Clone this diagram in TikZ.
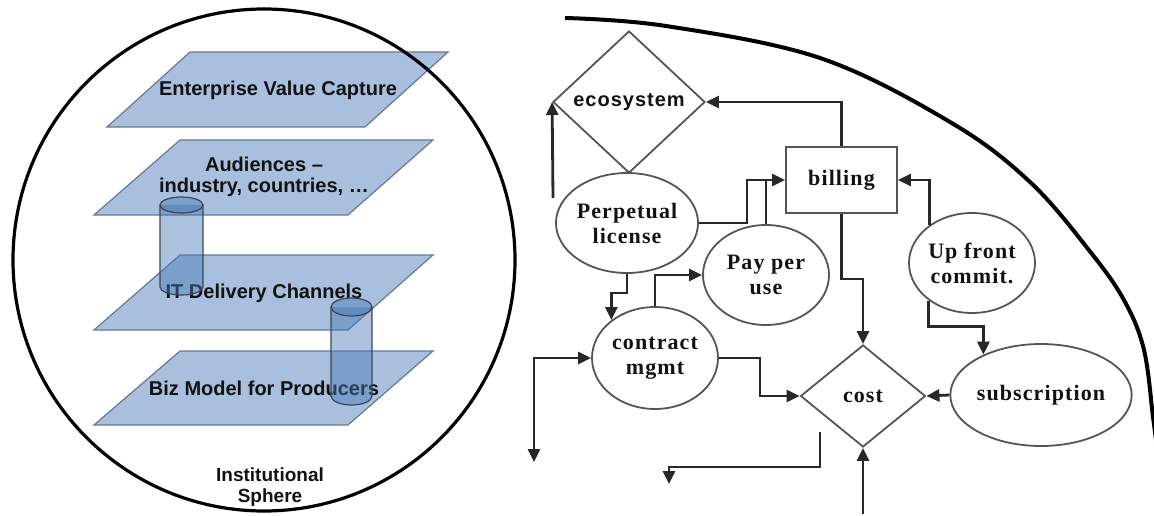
\documentclass[tikz,border=0pt]{standalone}
\usepackage{fontspec}
\setmainfont{Liberation Serif}
\newfontfamily\planefont{Liberation Sans}
\newfontfamily\labelserif{Liberation Serif}[LetterSpace=5]
\newfontfamily\labelsans{Liberation Sans}[LetterSpace=5]
\usetikzlibrary{shapes.geometric,arrows.meta,calc}

\definecolor{planefill}{RGB}{168,192,222}
\definecolor{planeedge}{RGB}{105,120,145}
\definecolor{cylfill}{RGB}{70,120,182}
\definecolor{cyledge}{RGB}{60,68,84}
\definecolor{ink}{RGB}{18,18,18}
\definecolor{wirecol}{RGB}{40,40,40}
\definecolor{outline}{RGB}{85,85,85}

\begin{document}
\begin{tikzpicture}[x=1pt,y=-1pt,
  plane/.style={fill=planefill, draw=planeedge, line width=1.2pt},
  planetext/.style={font=\planefont\bfseries\fontsize{20}{21}\selectfont,
    text=ink, align=center, inner sep=0pt},
  cylbody/.style={fill=cylfill, fill opacity=0.45, draw=cyledge, line width=1.2pt},
  sphere/.style={draw=black, line width=3.2pt},
  proc/.style={ellipse, draw=outline, line width=1.8pt, fill=white, inner sep=0pt,
    font=\labelserif\bfseries\fontsize{22}{25}\selectfont, align=center, text=ink},
  choice/.style={diamond, draw=outline, line width=1.8pt, fill=white, inner sep=0pt,
    text=ink},
  stepbox/.style={rectangle, draw=outline, line width=1.8pt, fill=white, inner sep=0pt,
    font=\labelserif\bfseries\fontsize{22}{25}\selectfont, text=ink},
  wire/.style={draw=wirecol, line width=2.8pt, -{Triangle[length=13pt,width=12pt]}},
  wiretwo/.style={draw=wirecol, line width=2.8pt,
    {Triangle[length=13pt,width=12pt]}-{Triangle[length=13pt,width=12pt]}},
  plainwire/.style={draw=wirecol, line width=2.8pt},
]
\useasboundingbox (0,0) rectangle (1154,516);

% ---------------- institutional sphere: stacked layers ----------------
\draw[plane] (190,52) -- (448,52) -- (365,127) -- (107,127) -- cycle;
\node[planetext] (evc) at (278,90) {Enterprise Value Capture};

\draw[plane] (180,140) -- (433,140) -- (348,215) -- (94,215) -- cycle;
\node[planetext] (aud) at (264,177) {Audiences \textendash\\industry, countries, \dots};

\draw[plane] (180,255) -- (433,255) -- (348,330) -- (94,330) -- cycle;
\node[planetext] (itd) at (264,293) {IT Delivery Channels};

\draw[plane] (180,351) -- (433,351) -- (348,425) -- (94,425) -- cycle;
\node[planetext] (biz) at (264,388) {Biz Model for Producers};

% connecting cylinders between the layers
\fill[cylfill, fill opacity=0.45] (160,205) rectangle (203,287);
\fill[cylfill, fill opacity=0.45] (160,287) arc[start angle=180, end angle=0, x radius=21.5, y radius=8];
\draw[cyledge, line width=1.2pt] (160,205) -- (160,287)
  arc[start angle=180, end angle=0, x radius=21.5, y radius=8] -- (203,205);
\draw[cylbody] (181.5,205) ellipse[x radius=21.5, y radius=8];

\fill[cylfill, fill opacity=0.45] (331,307) rectangle (372,396);
\fill[cylfill, fill opacity=0.45] (331,396) arc[start angle=180, end angle=0, x radius=20.5, y radius=9];
\draw[cyledge, line width=1.2pt] (331,307) -- (331,396)
  arc[start angle=180, end angle=0, x radius=20.5, y radius=9] -- (372,307);
\draw[cylbody] (351.5,307) ellipse[x radius=20.5, y radius=9];

% sphere outline and caption
\draw[sphere] (264,260) circle[radius=251];
\node[planetext, font=\planefont\bfseries\fontsize{19}{21}\selectfont] (sph) at (270,487)
  {Institutional\\Sphere};

% ---------------- revenue model flow ----------------
\draw[sphere, line width=4pt] plot[smooth, tension=0.6] coordinates
  {(565,18) (666,26) (820,58) (950,122) (1030,182) (1092,254) (1125,302) (1144,350) (1153,417) (1156,440)};

\node[choice, minimum width=152pt, minimum height=142pt,
  font=\labelsans\bfseries\fontsize{20}{24}\selectfont] (eco) at (629,102) {ecosystem};
\node[stepbox, minimum width=111pt, minimum height=66pt] (bill) at (841.5,180) {billing};
\node[proc, minimum width=126pt, minimum height=100pt] (perp) at (627,223) {Perpetual\\license};
\node[proc, minimum width=126pt, minimum height=100pt] (pay) at (766,275) {Pay per\\use};
\node[proc, minimum width=126pt, minimum height=102pt] (cm) at (655,358) {contract\\mgmt};
\node[proc, minimum width=126pt, minimum height=100pt] (uf) at (972,263) {Up front\\commit.};
\node[proc, minimum width=154pt, minimum height=102pt] (sub) at (1041,395) {subscription};
\node[choice, minimum width=125pt, minimum height=102pt,
  font=\labelserif\bfseries\fontsize{22}{25}\selectfont] (cost) at (863,396) {cost};

% loose ends of the flow
\coordinate (ecoin) at (553,198);
\coordinate (cmin) at (534,462);
\coordinate (outa) at (820,432);
\coordinate (outb) at (669,484);
\coordinate (costin) at (863,514);

\draw[wire] (ecoin) -- (eco.west);
\draw[wire] (bill.north) |- (eco.east);
\draw[wire] (perp.east) -- ++(48,0) |- (bill.west);
\draw[plainwire] (pay.north) -- (pay.north |- bill.west);
\draw[wire] (perp.south) -- ++(0,19) -| (cm.139);
\draw[wire] (cm.north) |- (pay.west);
\draw[wire] (cm.east) -- ++(41,0) |- (cost.west);
\draw[wiretwo] (cmin) |- (cm.west);
\draw[wire] (outa) -- ++(0,35) -| (outb);
\draw[wire] (bill.south) -- ++(0,65) -| (cost.north);
\draw[wire] (costin) -- (cost.south);
\draw[wire] (uf.138.6) |- (bill.east);
\draw[wire] (uf.221.4) -- ++(0,26) -| (sub.145);
\draw[wire] (sub.west) -- (cost.east);
\end{tikzpicture}
\end{document}
